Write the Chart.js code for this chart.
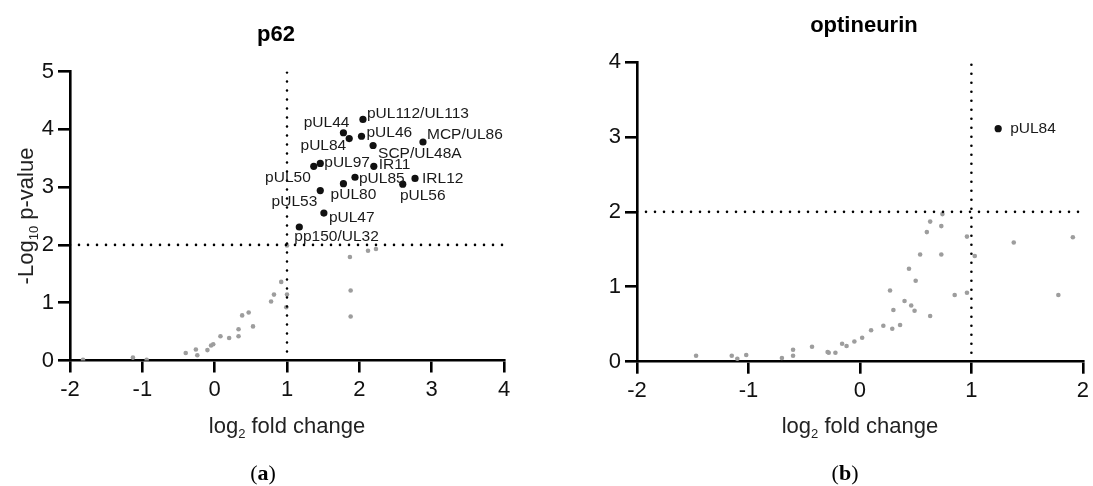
<!DOCTYPE html>
<html>
<head>
<meta charset="utf-8">
<script src="https://cdn.jsdelivr.net/npm/chart.js@4.4.1/dist/chart.umd.min.js"></script>
<style>
    html, body { margin: 0; padding: 0; background: #fff; }
    #wrap { position: relative; width: 1093px; height: 486px; overflow: hidden; }
    canvas { position: absolute; top: 0; }
    #p62Chart { left: 0; }
    #optnChart { left: 546px; }
    .cap { position: absolute; top: 461px; width: 80px; text-align: center;
           font: 22px 'Liberation Serif', serif; line-height: 24px; color: #000; }
</style>
</head>
<body>
<div id="wrap">
    <canvas id="p62Chart" width="546" height="486"></canvas>
    <canvas id="optnChart" width="547" height="486"></canvas>
    <div class="cap" style="left:223px">(<b>a</b>)</div>
    <div class="cap" style="left:805px">(<b>b</b>)</div>
</div>
<script>
// p62 panel: labelled hits
const p62Names = ['pUL112/UL113', 'pUL44', 'pUL84', 'pUL46', 'MCP/UL86', 'SCP/UL48A', 'pUL97', 'pUL50',
    'IR11', 'pUL85', 'pUL80', 'pUL56', 'IRL12', 'pUL53', 'pUL47', 'pp150/UL32'];
const p62HitX = [2.05, 1.78, 1.86, 2.03, 2.88, 2.19, 1.46, 1.37, 2.20, 1.94, 1.78, 2.60, 2.77, 1.46, 1.51, 1.17];
const p62HitY = [4.17, 3.94, 3.84, 3.88, 3.78, 3.72, 3.41, 3.36, 3.36, 3.17, 3.06, 3.05, 3.15, 2.94, 2.55, 2.31];
// p62 panel: everything else
const p62RestX = [-1.82, -1.13, -0.94, -0.40, -0.26, -0.24, -0.10, -0.05, -0.02, 0.08, 0.20, 0.33, 0.33, 0.38,
    0.47, 0.53, 0.78, 0.82, 0.92, 1.00, 1.00, 0.99, 1.87, 1.88, 1.88, 2.12, 2.23];
const p62RestY = [0.01, 0.05, 0.01, 0.13, 0.19, 0.09, 0.18, 0.26, 0.28, 0.42, 0.39, 0.42, 0.54, 0.78,
    0.83, 0.59, 1.02, 1.14, 1.36, 1.99, 1.14, 0.92, 1.79, 1.21, 0.76, 1.90, 1.93];

// optineurin panel
const optnNames = ['pUL84'];
const optnHitX = [1.24];
const optnHitY = [3.11];
const optnRestX = [-1.47, -1.15, -1.10, -1.02, -0.70, -0.60, -0.60, -0.43, -0.29, -0.28, -0.22, -0.16, -0.12,
    -0.05, 0.02, 0.10, 0.21, 0.29, 0.36, 0.27, 0.30, 0.40, 0.46, 0.49, 0.44, 0.50, 0.54, 0.60, 0.63, 0.63,
    0.73, 0.73, 0.74, 0.85, 0.96, 1.03, 0.96, 1.38, 1.91, 1.78];
const optnRestY = [0.08, 0.08, 0.04, 0.09, 0.05, 0.08, 0.16, 0.20, 0.13, 0.12, 0.12, 0.24, 0.21,
    0.27, 0.32, 0.42, 0.48, 0.44, 0.49, 0.95, 0.69, 0.81, 0.75, 0.68, 1.24, 1.08, 1.43, 1.73, 1.87, 0.61,
    1.81, 1.43, 1.97, 0.89, 1.67, 1.41, 0.92, 1.59, 1.66, 0.89];

// axis ranges and cut-offs
const p62XRange = [-2, 4];
const p62YRange = [0, 5];
const optnXRange = [-2, 2];
const optnYRange = [0, 4];
const foldCut = 1;   // log2 fold change
const pCut = 2;      // -log10 p-value

// where each label sits next to its dot: [textAlign, dx, dy]
const p62LabelSpot = {
    'pUL112/UL113': ['left', 4, -6],
    'pUL44': ['right', 6, -10],
    'pUL84': ['right', -3, 7],
    'pUL46': ['left', 5, -4],
    'MCP/UL86': ['left', 4, -7],
    'SCP/UL48A': ['left', 5, 8],
    'pUL97': ['left', 4, -1],
    'pUL50': ['right', -3, 11],
    'IR11': ['left', 5, -2],
    'pUL85': ['left', 4, 1],
    'pUL80': ['center', 10, 11],
    'pUL56': ['center', 20, 12],
    'IRL12': ['left', 7, 0],
    'pUL53': ['right', -3, 11],
    'pUL47': ['left', 5, 5],
    'pp150/UL32': ['left', -5, 10]
};
const optnLabelSpot = {
    'pUL84': ['left', 12, 0]
};

const FONT = '"Liberation Sans", Arial, sans-serif';
Chart.defaults.font.family = FONT;

// text with a subscript part, centred on cx
function drawSub(ctx, pre, sub, post, cx, baseY) {
    const big = '22px ' + FONT, small = '13px ' + FONT;
    ctx.font = big;
    const w1 = ctx.measureText(pre).width, w3 = ctx.measureText(post).width;
    ctx.font = small;
    const w2 = ctx.measureText(sub).width;
    let x = cx - (w1 + w2 + w3) / 2;
    ctx.textAlign = 'left';
    ctx.textBaseline = 'alphabetic';
    ctx.font = big; ctx.fillText(pre, x, baseY); x += w1;
    ctx.font = small; ctx.fillText(sub, x, baseY + 5); x += w2;
    ctx.font = big; ctx.fillText(post, x, baseY);
}

const volcanoText = {
    id: 'volcanoText',
    afterDatasetsDraw(chart, args, opt) {
        const { ctx } = chart;
        const idx = chart.data.datasets.findIndex(d => d.names);
        const ds = chart.data.datasets[idx];
        const meta = chart.getDatasetMeta(idx);
        ctx.save();
        ctx.font = '15.5px ' + FONT;
        ctx.fillStyle = '#1a1a1a';
        ctx.textBaseline = 'middle';
        meta.data.forEach((el, i) => {
            const [align, dx, dy] = opt.spots[ds.names[i]] || ['left', 12, 0];
            ctx.textAlign = align;
            ctx.fillText(ds.names[i], el.x + dx, el.y + dy);
        });
        ctx.restore();
    },
    afterDraw(chart, args, opt) {
        const { ctx, chartArea: a } = chart;
        const mid = (a.left + a.right) / 2;
        ctx.save();
        ctx.fillStyle = '#000';
        ctx.textAlign = 'center';
        ctx.textBaseline = 'alphabetic';
        ctx.font = 'bold 22px ' + FONT;
        ctx.fillText(opt.title, mid + opt.titleShift, a.top - 30.5);
        ctx.fillStyle = '#222';
        drawSub(ctx, 'log', '2', ' fold change', mid, 433);
        if (opt.yTitle) {
            ctx.translate(25, (a.top + a.bottom) / 2);
            ctx.rotate(-Math.PI / 2);
            drawSub(ctx, '-Log', '10', ' p-value', 0, 7.5);
        }
        ctx.restore();
    }
};

function volcano(id, o) {
    const zip = (xs, ys) => xs.map((x, i) => ({ x, y: ys[i] }));
    const dotted = {
        showLine: true, pointRadius: 0, borderColor: '#000', borderWidth: 2.6,
        borderDash: [0, 9], borderCapStyle: 'round', fill: false
    };
    const axis = (range, fit) => ({
        type: 'linear',
        min: range[0],
        max: range[1],
        ticks: { stepSize: 1, color: '#111', font: { size: 22 }, padding: 4, maxRotation: 0 },
        grid: { drawOnChartArea: false, tickLength: 12, color: '#000', lineWidth: 2.6 },
        border: { display: true, color: '#000', width: 2.6 },
        afterFit: fit
    });
    return new Chart(document.getElementById(id), {
        type: 'scatter',
        data: {
            datasets: [
                { ...dotted, data: [{ x: o.xRange[0], y: pCut }, { x: o.xRange[1], y: pCut }] },
                { ...dotted, data: [{ x: foldCut, y: o.yRange[0] }, { x: foldCut, y: o.yRange[1] }] },
                { data: zip(o.restX, o.restY), pointRadius: 2.3, pointBackgroundColor: '#9d9d9d', pointBorderWidth: 0 },
                { data: zip(o.hitX, o.hitY), names: o.names, pointRadius: 3.6, pointBackgroundColor: '#111', pointBorderWidth: 0 }
            ]
        },
        options: {
            responsive: false,
            animation: false,
            layout: { padding: o.pad },
            plugins: {
                legend: { display: false },
                tooltip: { enabled: false },
                volcanoText: { title: o.title, titleShift: o.titleShift, yTitle: o.yTitle, spots: o.spots }
            },
            scales: {
                x: axis(o.xRange, s => { s.height = 60; }),
                y: axis(o.yRange, s => { s.width = o.yWidth; })
            }
        },
        plugins: [volcanoText]
    });
}

volcano('p62Chart', {
    title: 'p62', titleShift: -11, yTitle: true, spots: p62LabelSpot,
    names: p62Names, hitX: p62HitX, hitY: p62HitY, restX: p62RestX, restY: p62RestY,
    xRange: p62XRange, yRange: p62YRange,
    yWidth: 70, pad: { left: 0, top: 71.5, right: 42, bottom: 65.5 }
});

volcano('optnChart', {
    title: 'optineurin', titleShift: 4, yTitle: false, spots: optnLabelSpot,
    names: optnNames, hitX: optnHitX, hitY: optnHitY, restX: optnRestX, restY: optnRestY,
    xRange: optnXRange, yRange: optnYRange,
    yWidth: 91, pad: { left: 0, top: 62, right: 8, bottom: 64.3 }
});
</script>
</body>
</html>
